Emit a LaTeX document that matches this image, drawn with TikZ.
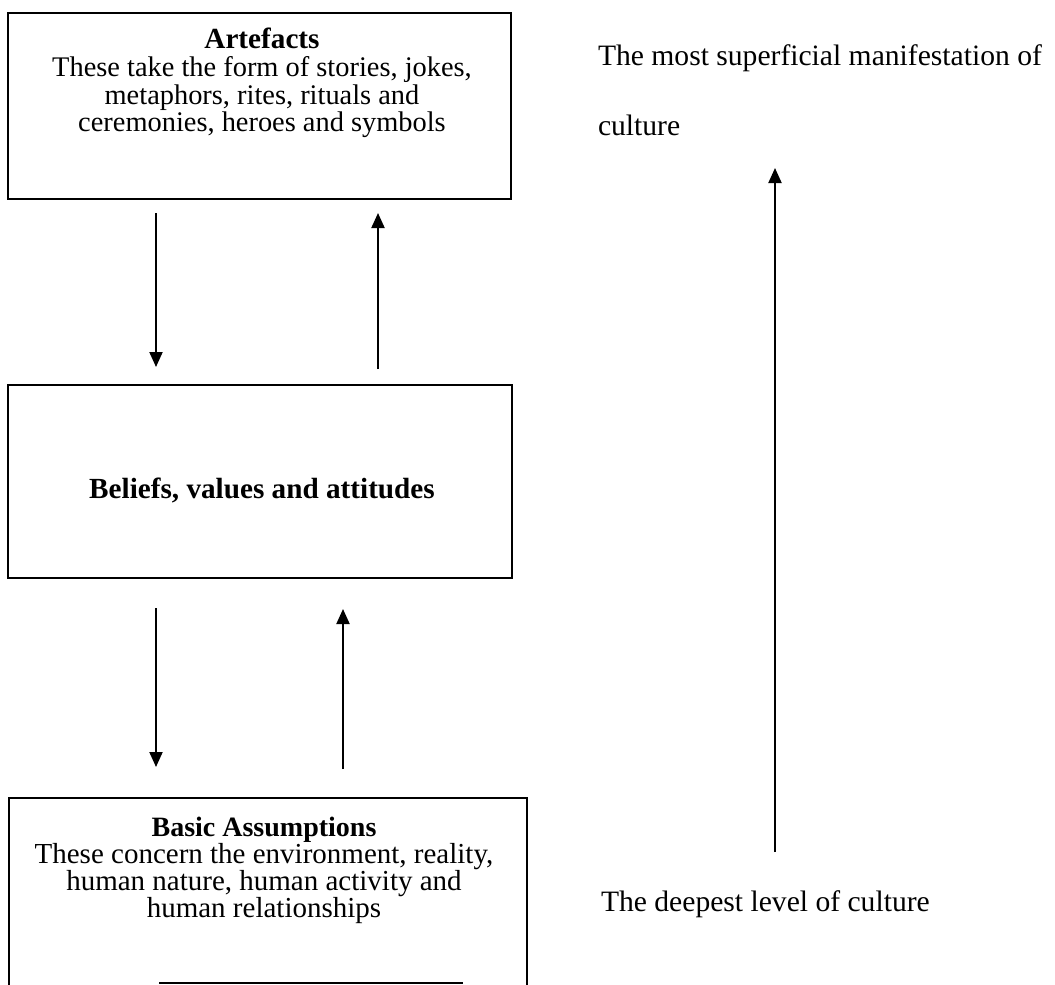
\documentclass[tikz,border=0pt]{standalone}
\usepackage{fontspec}
\setmainfont{Liberation Serif}
\usepackage{tikz}
\usetikzlibrary{arrows.meta,positioning}

\begin{document}
\begin{tikzpicture}[
        x=0.5pt, y=-0.5pt,
        every node/.style={align=center, inner sep=0pt, line width=1pt},
        layer/.style  ={rectangle, draw=black, line width=1pt},
        boxtxt/.style ={font=\fontsize{14.2}{13.9}\selectfont},
        basetxt/.style={font=\fontsize{14.5}{13.5}\selectfont},
        sidetxt/.style={font=\fontsize{14.8}{35}\selectfont, align=left},
        flow/.style   ={-{Triangle[length=7.5pt,width=6.5pt]}, line width=1pt},
    ]
        \clip (0,0) rectangle (1055,985);
        \fill[white] (0,0) rectangle (1055,985);

        % ===================== capas =====================
        \node[layer, minimum width=251.5pt, minimum height=93pt]   (arte)   at (259.5, 106)   {};
        \node[layer, minimum width=252pt,   minimum height=96.5pt] (belief) at (260, 481.5)   {};
        \node[layer, minimum width=259pt,   minimum height=102pt]  (basic)  at (268, 900)     {};

        \node[boxtxt, below=7.5pt of arte.north, xshift=1.25pt] (artetxt)
            {\textbf{\fontsize{14.6}{13.9}\selectfont Artefacts}\\ These take the form of stories, jokes,\\
             metaphors, rites, rituals and\\ ceremonies, heroes and symbols};
        \node[boxtxt, anchor=base] (belieftxt) at (262, 498)
            {\textbf{\fontsize{14.6}{13.9}\selectfont Beliefs, values and attitudes}};
        \node[basetxt, below=9.5pt of basic.north, xshift=-2pt] (basictxt)
            {\textbf{\fontsize{14}{13.5}\selectfont Basic Assumptions}\\ These concern the environment, reality,\\
             human nature, human activity and\\ human relationships};

        % resto del borde inferior
        \draw[line width=1pt] ([xshift=75.5pt, yshift=10pt]basic.south west)
            -- ([xshift=-32.5pt, yshift=10pt]basic.south east);

        % ===================== textos laterales =====================
        \node[sidetxt, anchor=base west] (supertxt) at (597, 135)
            {The most superficial manifestation of\\ culture};
        \node[sidetxt, anchor=base west] (deeptxt) at (600, 911)
            {The deepest level of culture};

        % ===================== flechas =====================
        \draw[flow] ([shift={(74.5pt,-6.5pt)}]arte.south west)
            -- ([shift={(74.5pt,8.5pt)}]belief.north west);
        \draw[flow] ([shift={(185.5pt,7.5pt)}]belief.north west)
            -- ([shift={(185.5pt,-6.5pt)}]arte.south west);
        \draw[flow] ([shift={(74.5pt,-14.5pt)}]belief.south west)
            -- ([shift={(74pt,15pt)}]basic.north west);
        \draw[flow] ([shift={(167.5pt,14pt)}]basic.north west)
            -- ([shift={(168pt,-15pt)}]belief.south west);

        \coordinate (deep) at (775, 852);
        \coordinate (surf) at (775, 168);
        \draw[flow] (deep) -- (surf);
    \end{tikzpicture}
\end{document}
